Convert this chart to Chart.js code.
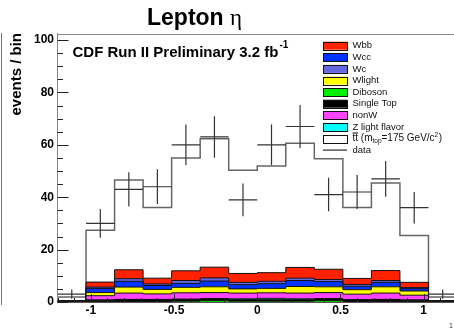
<!DOCTYPE html>
<html>
<head>
<meta charset="utf-8">
<script src="https://cdn.jsdelivr.net/npm/chart.js@4.4.1/dist/chart.umd.min.js"></script>
<style>
html, body { margin: 0; padding: 0; overflow: hidden; background: #fff; }
canvas { display: block; }
</style>
</head>
<body>
<canvas id="myChart" width="460" height="335"></canvas>
<script>
// lepton eta, 14 bins from -1.2 to 1.2
const etaMin = -1.2;
const etaMax = 1.2;
const nBins = 14;

const dataCounts = [3, 30, 43, 44, 60, 63, 39, 60, 67, 41, 42, 47, 36, 3];
const diboson   = [0, 0.2, 0.2, 0.2, 0.3, 0.5, 0.3, 0.3, 0.3, 0.5, 0.2, 0.2, 0.2, 0];
const singleTop = [0, 0.5, 0.7, 0.7, 0.7, 0.7, 0.7, 0.6, 0.7, 0.7, 0.6, 0.7, 0.5, 0];
const zLight    = [0, 0.1, 0.1, 0.1, 0.1, 0.1, 0.2, 0.5, 0.2, 0.1, 0.1, 0.1, 0.1, 0];
const nonW      = [0.4, 1.6, 2.4, 2.1, 2.4, 2.3, 2.2, 2.1, 2.2, 2.3, 2.1, 2.4, 1.8, 0.4];
const wLight    = [0, 1.2, 2.3, 1.7, 2.1, 2.2, 1.6, 1.7, 2.5, 2.2, 1.7, 2.4, 1.6, 0];
const wcc       = [0, 1.6, 2.2, 1.5, 1.5, 2.2, 1.6, 1.8, 2.3, 2.0, 1.3, 1.7, 0.9, 0];
const wc        = [0, 0.5, 1.0, 0.6, 1.1, 1.2, 0.9, 0.9, 0.9, 0.8, 0.7, 0.7, 0.4, 0];
const wbb       = [0, 1.9, 3.4, 2.2, 3.7, 4.1, 3.4, 3.3, 4.1, 3.9, 2.3, 3.8, 2.0, 0];
const ttbar     = [1.5, 19.8, 34.3, 27.0, 43.1, 49.0, 39.4, 40.7, 47.4, 42.2, 27.1, 33.4, 17.9, 1.5];

const yMax = 102.5;
const yStep = 20;
const xStep = 0.5;

const binWidth = (etaMax - etaMin) / nBins;
const edges = Array.from({ length: nBins + 1 }, (_, i) => etaMin + i * binWidth);
const centers = edges.slice(0, nBins).map(e => e + binWidth / 2);

const stepPoints = (values) => edges.map((e, i) => ({ x: e, y: values[Math.min(i, nBins - 1)] }));

// bottom to top of the stack
const layers = [
    { name: 'Diboson', values: diboson, color: '#00ee00', line: '#111' },
    { name: 'Single Top', values: singleTop, color: '#000000', line: '#111' },
    { name: 'Z light flavor', values: zLight, color: '#00ffff', line: '#111' },
    { name: 'nonW', values: nonW, color: '#ff44ff', line: '#111' },
    { name: 'Wlight', values: wLight, color: '#ffff00', line: '#111' },
    { name: 'Wcc', values: wcc, color: '#0033ff', line: '#111' },
    { name: 'Wc', values: wc, color: '#6666dd', line: '#111' },
    { name: 'Wbb', values: wbb, color: '#ff2200', line: '#111' },
    { name: 'tt', values: ttbar, color: '#ffffff', line: '#666' },
];

const legendOrder = ['Wbb', 'Wcc', 'Wc', 'Wlight', 'Diboson', 'Single Top', 'nonW', 'Z light flavor', 'tt', 'data'];

const datasets = layers.map((l, i) => ({
    type: 'line',
    label: l.name,
    data: stepPoints(l.values),
    stack: 'mc',
    stepped: true,
    fill: i === 0 ? 'origin' : '-1',
    backgroundColor: l.color,
    borderColor: l.line,
    borderWidth: l.name === 'tt' ? 1.5 : 1,
    pointRadius: 0,
    order: 1,
}));

// data: horizontal bin-width bars and vertical sqrt(N) error bars
datasets.push({
    type: 'scatter',
    label: 'data-h',
    data: centers.map((c, i) => ({ x: c, y: dataCounts[i] })),
    stack: 'dh',
    pointStyle: 'line',
    pointRadius: (ctx) => {
        const x = ctx.chart.scales.x;
        return Math.abs(x.getPixelForValue(binWidth) - x.getPixelForValue(0)) / 2;
    },
    pointBorderColor: '#333',
    pointBorderWidth: 1.2,
    order: -1,
});
datasets.push({
    type: 'scatter',
    label: 'data-v',
    data: centers.map((c, i) => ({ x: c, y: dataCounts[i] })),
    stack: 'dv',
    pointStyle: 'line',
    rotation: 90,
    pointRadius: (ctx) => {
        const y = ctx.chart.scales.y;
        const n = dataCounts[ctx.dataIndex];
        return Math.abs(y.getPixelForValue(0) - y.getPixelForValue(Math.sqrt(n)));
    },
    pointBorderColor: '#333',
    pointBorderWidth: 1.2,
    order: -1,
});

const sans = '"Liberation Sans", Arial, sans-serif';

const rootFrame = {
    id: 'rootFrame',
    afterDatasetsDraw(chart) {
        const { ctx, chartArea: a, scales: { x, y } } = chart;
        ctx.save();

        // ticks drawn inward, ROOT style
        ctx.strokeStyle = '#222';
        ctx.lineWidth = 1;
        ctx.beginPath();
        for (let v = 0; v <= y.max; v += yStep / 4) {
            const py = Math.round(y.getPixelForValue(v)) + 0.5;
            const len = v % yStep === 0 ? 11 : 5.5;
            ctx.moveTo(a.left, py);
            ctx.lineTo(a.left + len, py);
        }
        for (let i = Math.ceil(x.min * 10); i <= Math.floor(x.max * 10); i++) {
            const px = Math.round(x.getPixelForValue(i / 10)) + 0.5;
            const len = i % 5 === 0 ? 8 : 4;
            ctx.moveTo(px, a.bottom);
            ctx.lineTo(px, a.bottom - len);
        }
        ctx.stroke();

        // frame top
        ctx.strokeStyle = '#888';
        ctx.beginPath();
        ctx.moveTo(a.left, Math.round(a.top) + 0.5);
        ctx.lineTo(a.right, Math.round(a.top) + 0.5);
        ctx.stroke();

        // pad edge on the far left
        ctx.strokeStyle = '#777';
        ctx.beginPath();
        ctx.moveTo(1.5, 33);
        ctx.lineTo(1.5, 305);
        ctx.stroke();

        ctx.fillStyle = '#000';
        ctx.textBaseline = 'alphabetic';

        // title
        ctx.font = 'bold 23px ' + sans;
        ctx.fillText('Lepton', 147, 25);
        const lw = ctx.measureText('Lepton ').width;
        ctx.font = '23px "Liberation Serif", serif';
        ctx.fillText('η', 147 + lw, 25);

        // CDF label
        ctx.font = 'bold 15px ' + sans;
        const cdf = 'CDF Run II Preliminary 3.2 fb';
        ctx.fillText(cdf, 72.5, 57.3);
        const cw = ctx.measureText(cdf).width;
        ctx.font = 'bold 10px ' + sans;
        ctx.fillText('-1', 72.5 + cw + 1, 48);

        // y axis title
        ctx.save();
        ctx.translate(17, 33);
        ctx.rotate(-Math.PI / 2);
        ctx.font = 'bold 15px ' + sans;
        ctx.textAlign = 'right';
        ctx.textBaseline = 'middle';
        ctx.fillText('events / bin', 0, 0);
        ctx.restore();

        // legend
        const boxX = 323, boxW = 24, boxH = 8, row0 = 45.7, rowStep = 11.6, textX = 352.5;
        ctx.textBaseline = 'middle';
        legendOrder.forEach((name, i) => {
            const cy = row0 + i * rowStep;
            ctx.font = '9.5px ' + sans;
            if (name === 'data') {
                ctx.strokeStyle = '#555';
                ctx.lineWidth = 1.5;
                ctx.beginPath();
                ctx.moveTo(boxX, cy);
                ctx.lineTo(boxX + boxW, cy);
                ctx.stroke();
                ctx.fillStyle = '#111';
                ctx.fillText('data', textX, cy);
                return;
            }
            const l = layers.find(d => d.name === name);
            ctx.fillStyle = l.color;
            ctx.fillRect(boxX, cy - boxH / 2, boxW, boxH);
            ctx.strokeStyle = '#111';
            ctx.lineWidth = 1;
            ctx.strokeRect(boxX + 0.5, Math.round(cy - boxH / 2) + 0.5, boxW, boxH);
            ctx.fillStyle = '#111';
            if (name !== 'tt') {
                ctx.fillText(name, textX, cy);
                return;
            }
            let tx = textX;
            ctx.font = '10px ' + sans;
            ctx.fillText('tt', tx, cy);
            const ttw = ctx.measureText('tt').width;
            ctx.strokeStyle = '#111';
            ctx.beginPath();
            ctx.moveTo(tx, cy - 5.5);
            ctx.lineTo(tx + ttw, cy - 5.5);
            ctx.stroke();
            tx += ttw;
            ctx.fillText(' (m', tx, cy);
            tx += ctx.measureText(' (m').width;
            ctx.font = '6.5px ' + sans;
            ctx.fillText('top', tx, cy + 3);
            tx += ctx.measureText('top').width;
            ctx.font = '10px ' + sans;
            ctx.fillText('=175 GeV/c', tx, cy);
            tx += ctx.measureText('=175 GeV/c').width;
            ctx.font = '6.5px ' + sans;
            ctx.fillText('2', tx, cy - 3.5);
            tx += ctx.measureText('2').width + 0.5;
            ctx.font = '10px ' + sans;
            ctx.fillText(')', tx, cy);
        });

        // leftover axis label at the bottom corner
        ctx.font = '7px ' + sans;
        ctx.fillStyle = '#333';
        ctx.textBaseline = 'alphabetic';
        ctx.fillText('1', 449, 328);

        ctx.restore();
    },
};

const ctxEl = document.getElementById('myChart');
const chart = new Chart(ctxEl, {
    type: 'line',
    data: { datasets },
    options: {
        responsive: false,
        animation: false,
        events: [],
        layout: { padding: { top: 33.5, right: 3, left: 0, bottom: 0 } },
        plugins: {
            legend: { display: false },
            tooltip: { enabled: false },
            title: { display: false },
        },
        scales: {
            x: {
                type: 'linear',
                min: etaMin,
                max: etaMax,
                grid: { display: false, drawTicks: false },
                border: { color: '#555', width: 1 },
                ticks: {
                    stepSize: xStep,
                    includeBounds: false,
                    padding: 1,
                    color: '#000',
                    font: { family: sans, size: 12, weight: 'bold' },
                    callback: (v) => String(parseFloat(Number(v).toFixed(2))),
                },
                afterFit: (scale) => { scale.height = 33; },
            },
            y: {
                stacked: true,
                min: 0,
                max: yMax,
                grid: { display: false, drawTicks: false },
                border: { color: '#888', width: 1 },
                ticks: {
                    stepSize: yStep,
                    includeBounds: false,
                    padding: 3.5,
                    color: '#000',
                    font: { family: sans, size: 12, weight: 'bold' },
                },
                afterFit: (scale) => { scale.width = 57.5; },
            },
        },
    },
    plugins: [rootFrame],
});
</script>
</body>
</html>
